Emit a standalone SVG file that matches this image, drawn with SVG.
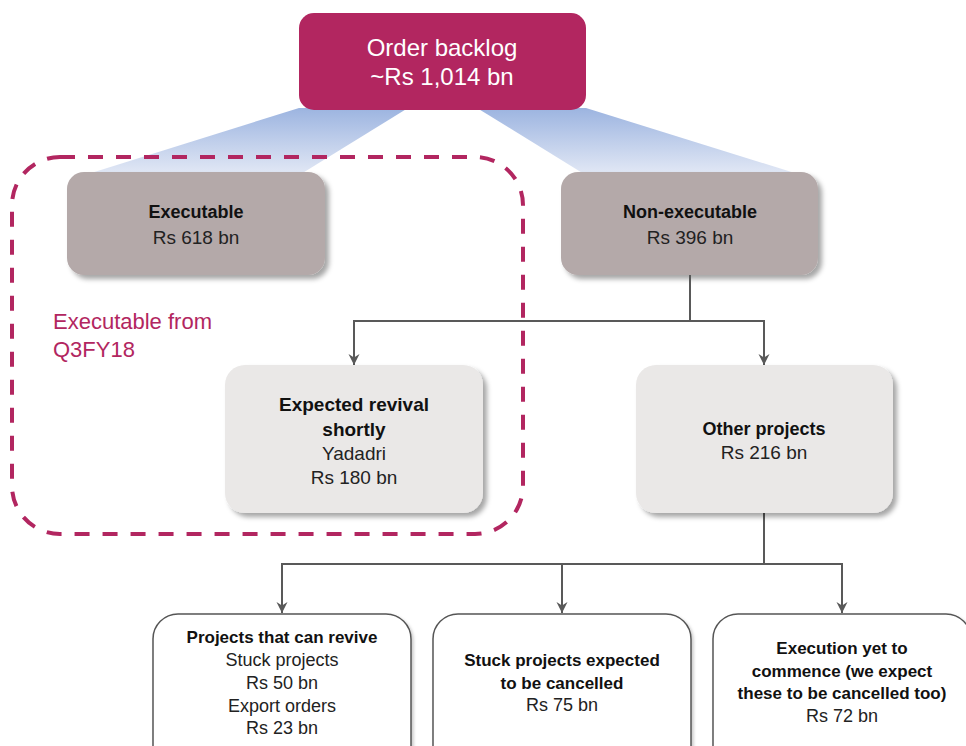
<svg xmlns="http://www.w3.org/2000/svg" width="966" height="746" viewBox="0 0 966 746">
<defs>
<linearGradient id="fan" x1="0" y1="0" x2="0" y2="1">
<stop offset="0" stop-color="#9CB4E0"/>
<stop offset="1" stop-color="#E2E8F5"/>
</linearGradient>
<filter id="sh" x="-10%" y="-10%" width="125%" height="130%">
<feDropShadow dx="4" dy="4" stdDeviation="2.5" flood-color="#000" flood-opacity="0.35"/>
</filter>
<filter id="sh2" x="-10%" y="-10%" width="125%" height="130%">
<feDropShadow dx="2" dy="2" stdDeviation="1.5" flood-color="#000" flood-opacity="0.2"/>
</filter>
<marker id="arr" markerUnits="userSpaceOnUse" markerWidth="12" markerHeight="12" viewBox="0 0 12 12" refX="11" refY="6" orient="auto">
<path d="M0,0.5 L11,6 L0,11.5 L3.5,6 z" fill="#595959"/>
</marker>
</defs>
<style>
text{font-family:"Liberation Sans",Arial,sans-serif;text-anchor:middle}
.b{font-weight:bold;font-size:19px;fill:#111}
.r{font-size:19px;fill:#222}
.bs{font-weight:bold;font-size:17px;fill:#111}
.rs{font-size:18px;fill:#222}
.w{font-size:24px;fill:#fff}
.gray{fill:#B4A9A9}
.light{fill:#EAE8E7}
.wht{fill:#fff;stroke:#555;stroke-width:1.5}
.conn{fill:none;stroke:#595959;stroke-width:2}
</style>
<g id="fans">
<polygon points="299,108 408,108 301,174 88,174" fill="url(#fan)"/>
<polygon points="477,108 586,108 798,174 584,174" fill="url(#fan)"/>
</g>
<g id="top">
<rect x="299" y="13" width="287" height="97" rx="15" fill="#B22660"/>
<text class="w" x="442" y="56">Order backlog</text>
<text class="w" x="442" y="85">~Rs 1,014 bn</text>
</g>
<g id="executable">
<rect class="gray" x="67" y="172" width="258" height="103" rx="17" filter="url(#sh)"/>
<text class="b" x="196" y="218" style="font-size:18px">Executable</text>
<text class="r" x="196" y="244">Rs 618 bn</text>
</g>
<g id="nonexecutable">
<rect class="gray" x="561" y="172" width="257" height="103" rx="17" filter="url(#sh)"/>
<text class="b" x="690" y="218" style="font-size:18px">Non-executable</text>
<text class="r" x="690" y="244">Rs 396 bn</text>
</g>
<g id="connectors">
<polyline class="conn" points="690,275 690,321"/>
<polyline class="conn" points="354,321 764,321"/>
<line class="conn" x1="354" y1="320" x2="354" y2="365" marker-end="url(#arr)"/>
<line class="conn" x1="764" y1="320" x2="764" y2="365" marker-end="url(#arr)"/>
<polyline class="conn" points="764,513 764,564"/>
<polyline class="conn" points="282,564 842,564"/>
<line class="conn" x1="282" y1="563" x2="282" y2="613" marker-end="url(#arr)"/>
<line class="conn" x1="562" y1="563" x2="562" y2="613" marker-end="url(#arr)"/>
<line class="conn" x1="842" y1="563" x2="842" y2="613" marker-end="url(#arr)"/>
</g>
<g id="revival">
<rect class="light" x="225" y="365" width="258" height="148" rx="20" filter="url(#sh)"/>
<text class="b" x="354" y="411">Expected revival</text>
<text class="b" x="354" y="436">shortly</text>
<text class="r" x="354" y="460">Yadadri</text>
<text class="r" x="354" y="484">Rs 180 bn</text>
</g>
<g id="other">
<rect class="light" x="636" y="365" width="257" height="148" rx="20" filter="url(#sh)"/>
<text class="b" x="764" y="435" style="font-size:18px">Other projects</text>
<text class="r" x="764" y="459">Rs 216 bn</text>
</g>
<g id="executable-from">
<rect x="12" y="157" width="511" height="377" rx="48" fill="none" stroke="#B22660" stroke-width="4" stroke-dasharray="15,13"/>
<text x="53" y="329" style="text-anchor:start;font-size:22px;fill:#B22660">Executable from</text>
<text x="53" y="357" style="text-anchor:start;font-size:22px;fill:#B22660">Q3FY18</text>
</g>
<g id="revive">
<rect class="wht" x="153" y="614" width="258" height="160" rx="25" filter="url(#sh2)"/>
<text class="bs" x="282" y="643">Projects that can revive</text>
<text class="rs" x="282" y="666">Stuck projects</text>
<text class="rs" x="282" y="689">Rs 50 bn</text>
<text class="rs" x="282" y="712">Export orders</text>
<text class="rs" x="282" y="734">Rs 23 bn</text>
</g>
<g id="cancelled">
<rect class="wht" x="433" y="614" width="258" height="160" rx="25" filter="url(#sh2)"/>
<text class="bs" x="562" y="666">Stuck projects expected</text>
<text class="bs" x="562" y="689">to be cancelled</text>
<text class="rs" x="562" y="711">Rs 75 bn</text>
</g>
<g id="yet">
<rect class="wht" x="713" y="614" width="258" height="160" rx="25" filter="url(#sh2)"/>
<text class="bs" x="842" y="654">Execution yet to</text>
<text class="bs" x="842" y="677">commence (we expect</text>
<text class="bs" x="842" y="699">these to be cancelled too)</text>
<text class="rs" x="842" y="722">Rs 72 bn</text>
</g>
</svg>
